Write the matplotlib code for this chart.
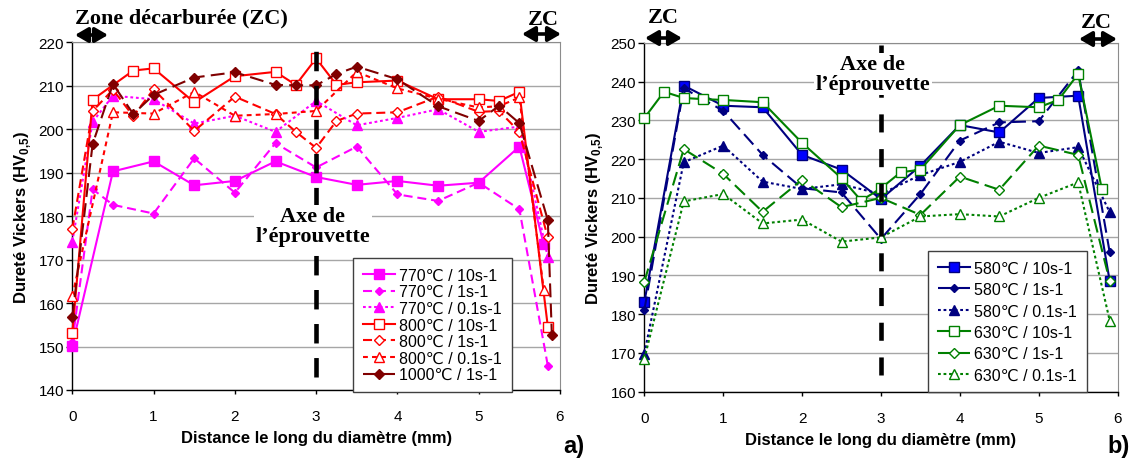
import matplotlib
matplotlib.use('Agg')
import matplotlib.pyplot as plt
from matplotlib.patches import FancyArrowPatch

plt.rcParams['font.family'] = ['Liberation Sans', 'DejaVu Sans']
plt.rcParams['lines.scale_dashes'] = False
plt.rcParams['mathtext.fontset'] = 'custom'
plt.rcParams['mathtext.rm'] = 'Liberation Sans'
plt.rcParams['mathtext.bf'] = 'Liberation Sans:bold'

# ---------------- data : panel a) ----------------
x_770_10 = [0, 0.5, 1, 1.5, 2, 2.5, 3, 3.5, 4, 4.5, 5, 5.5, 5.8]
hv_770_10 = [150.2, 190.3, 192.6, 187.1, 188.1, 192.6, 189.0, 187.2, 188.1, 187.0, 187.7, 196.0, 173.5]

x_770_1 = [0, 0.25, 0.5, 1, 1.5, 2, 2.5, 3, 3.5, 4, 4.5, 5, 5.5, 5.85]
hv_770_1 = [151.0, 186.2, 182.6, 180.6, 193.3, 185.4, 196.8, 191.2, 196.0, 185.0, 183.5, 187.7, 181.6, 145.6]

x_770_01 = [0, 0.25, 0.5, 1, 1.5, 2, 2.5, 3, 3.5, 4, 4.5, 5, 5.5, 5.85]
hv_770_01 = [174.1, 201.7, 207.7, 206.9, 201.3, 203.1, 199.4, 206.5, 200.9, 202.6, 204.6, 199.4, 200.6, 170.5]

x_800_10 = [0, 0.25, 0.75, 1, 1.5, 2, 2.5, 2.75, 3, 3.25, 3.5, 4, 4.5, 5, 5.25, 5.5, 5.85]
hv_800_10 = [153.0, 206.8, 213.5, 214.0, 206.2, 212.2, 213.2, 210.2, 216.3, 210.2, 210.8, 211.2, 206.9, 206.9, 206.5, 208.6, 154.6]

x_800_1 = [0, 0.25, 0.5, 0.75, 1, 1.5, 2, 2.5, 2.75, 3, 3.25, 3.5, 4, 4.5, 5, 5.25, 5.5, 5.85]
hv_800_1 = [177.0, 204.2, 209.1, 203.0, 209.2, 199.6, 207.5, 203.5, 199.4, 195.7, 201.9, 203.6, 203.9, 207.5, 204.0, 204.2, 199.4, 175.1]

x_800_01 = [0, 0.5, 1, 1.5, 2, 2.5, 3, 3.5, 4, 4.5, 5, 5.25, 5.5, 5.8]
hv_800_01 = [161.6, 203.9, 203.6, 208.6, 203.1, 203.5, 204.2, 213.2, 209.4, 207.0, 205.0, 205.3, 207.3, 163.0]

x_1000_1 = [0, 0.25, 0.5, 0.75, 1, 1.5, 2, 2.5, 2.75, 3, 3.25, 3.5, 4, 4.5, 5, 5.25, 5.5, 5.85, 5.9]
hv_1000_1 = [156.8, 196.6, 210.4, 203.5, 207.9, 211.9, 213.1, 210.2, 210.1, 210.1, 212.7, 214.4, 211.5, 205.3, 201.9, 205.4, 201.4, 179.1, 152.6]

# ---------------- data : panel b) ----------------
x_580_10 = [0, 0.5, 1, 1.5, 2, 2.5, 3, 3.5, 4, 4.5, 5, 5.5, 5.9]
hv_580_10 = [183.0, 239.0, 233.8, 233.4, 221.1, 217.3, 209.7, 218.3, 228.8, 226.9, 235.8, 236.4, 188.5]

x_580_1 = [0, 0.5, 1, 1.5, 2, 2.5, 3, 3.5, 4, 4.5, 5, 5.5, 5.9]
hv_580_1 = [181.0, 238.3, 232.5, 221.1, 212.5, 211.4, 199.4, 211.0, 224.8, 229.5, 229.8, 242.9, 195.9]

x_580_01 = [0, 0.5, 1, 1.5, 2, 2.5, 3, 3.5, 4, 4.5, 5, 5.5, 5.9]
hv_580_01 = [169.8, 219.2, 223.5, 214.2, 212.3, 213.5, 211.0, 215.9, 219.3, 224.5, 221.6, 223.1, 206.3]

x_630_10 = [0, 0.25, 0.5, 0.75, 1, 1.5, 2, 2.5, 2.75, 3, 3.25, 3.5, 4, 4.5, 5, 5.25, 5.5, 5.8]
hv_630_10 = [230.6, 237.4, 235.8, 235.5, 235.3, 234.7, 224.2, 215.1, 209.3, 212.5, 216.6, 217.3, 228.8, 233.8, 233.4, 235.3, 242.0, 212.3]

x_630_1 = [0, 0.5, 1, 1.5, 2, 2.5, 3, 3.5, 4, 4.5, 5, 5.5, 5.9]
hv_630_1 = [188.3, 222.6, 216.2, 206.4, 214.7, 207.6, 210.0, 205.6, 215.5, 212.1, 223.5, 221.1, 188.5]

x_630_01 = [0, 0.5, 1, 1.5, 2, 2.5, 3, 3.5, 4, 4.5, 5, 5.5, 5.9]
hv_630_01 = [168.4, 209.1, 211.0, 203.4, 204.4, 198.7, 199.8, 205.2, 205.8, 205.2, 210.0, 214.0, 178.3]

x_ticks = [0, 1, 2, 3, 4, 5, 6]
y_ticks_a = [140, 150, 160, 170, 180, 190, 200, 210, 220]
y_ticks_b = [160, 170, 180, 190, 200, 210, 220, 230, 240, 250]

# ---------------- figure ----------------
W, H = 1138, 464
fig = plt.figure(figsize=(W / 100, H / 100), dpi=100)


def axes_px(l, t, r, b):
    return fig.add_axes([l / W, 1 - b / H, (r - l) / W, (b - t) / H])


def ftext(x, y, s, **kw):
    return fig.text(x / W, 1 - y / H, s, **kw)


def arrow_px(x1, x2, y):
    fig.add_artist(FancyArrowPatch(
        (x1 / W, 1 - y / H), (x2 / W, 1 - y / H), transform=fig.transFigure,
        arrowstyle='<|-|>,head_length=0.55,head_width=0.32', mutation_scale=14,
        color='black', lw=2.6, shrinkA=0, shrinkB=0))


SOLID = '-'
DASH = (0, (6.5, 3.5))
LONGDASH = (0, (10, 4.5))
DOT = (0, (2, 2))
SDASH = (0, (3.5, 3))


def series(ax, x, y, color, ls, marker, ms, filled, label, fill=None):
    ax.plot(x, y, color=color, ls=ls, lw=1.5, marker=marker, ms=ms,
            mfc=(fill or color) if filled else 'white', mec=color, mew=1.0,
            label=label, clip_on=False, zorder=3)


def style_axes(ax, ylim, yticks):
    ax.set_xlim(0, 6)
    ax.set_ylim(*ylim)
    ax.set_xticks(x_ticks)
    ax.set_yticks(yticks)
    ax.yaxis.grid(True, color='#a6a6a6', lw=1.0)
    ax.set_axisbelow(True)
    for s in ('top', 'right'):
        ax.spines[s].set_color('#8c8c8c')
    for s in ('left', 'bottom'):
        ax.spines[s].set_color('black')
        ax.spines[s].set_linewidth(1.0)
    ax.tick_params(axis='y', direction='out', length=4, width=1, labelsize=11, pad=2)
    ax.tick_params(axis='x', direction='out', length=3, width=1, labelsize=11, pad=11)
    ax.set_xlabel('Distance le long du diamètre (mm)', fontsize=12, fontweight='bold', labelpad=5)
    ax.set_ylabel(r'Dureté Vickers (HV$_{\mathbf{0{,}5}}$)', fontsize=12, fontweight='bold', labelpad=4)


axL = axes_px(72.3, 43.3, 560, 391)
axR = axes_px(644.3, 44, 1117.6, 392.5)

MAG, RED, DRED = '#FF00FF', '#FF0000', '#800000'
NAVY, BLUE, GRN = '#000080', '#0000FF', '#008000'

series(axL, x_770_10, hv_770_10, MAG, SOLID, 's', 6.5, True, '770\u2103 / 10s-1')
series(axL, x_770_1, hv_770_1, MAG, DASH, 'D', 4.5, True, '770\u2103 / 1s-1')
series(axL, x_770_01, hv_770_01, MAG, DOT, '^', 6.5, True, '770\u2103 / 0.1s-1')
series(axL, x_800_10, hv_800_10, RED, SOLID, 's', 6.5, False, '800\u2103 / 10s-1')
series(axL, x_800_1, hv_800_1, RED, DASH, 'D', 5, False, '800\u2103 / 1s-1')
series(axL, x_800_01, hv_800_01, RED, SDASH, '^', 6.5, False, '800\u2103 / 0.1s-1')
series(axL, x_1000_1, hv_1000_1, DRED, LONGDASH, 'D', 5, True, '1000\u2103 / 1s-1')

series(axR, x_580_10, hv_580_10, NAVY, SOLID, 's', 6.5, True, '580\u2103 / 10s-1', fill=BLUE)
series(axR, x_580_1, hv_580_1, NAVY, LONGDASH, 'D', 4.5, True, '580\u2103 / 1s-1')
series(axR, x_580_01, hv_580_01, NAVY, DOT, '^', 6.5, True, '580\u2103 / 0.1s-1')
series(axR, x_630_10, hv_630_10, GRN, SOLID, 's', 6.5, False, '630\u2103 / 10s-1')
series(axR, x_630_1, hv_630_1, GRN, LONGDASH, 'D', 5, False, '630\u2103 / 1s-1')
series(axR, x_630_01, hv_630_01, GRN, DOT, '^', 6.5, False, '630\u2103 / 0.1s-1')

style_axes(axL, (140, 220), y_ticks_a)
style_axes(axR, (160, 250), y_ticks_b)

# specimen axis (centre line)
axL.plot([3, 3], [143, 219.5], color='black', lw=3.3, ls=(0, (14, 10.5)), zorder=4, solid_capstyle='butt')
axR.plot([3, 3], [164.2, 249.5], color='black', lw=3.3, ls=(0, (13, 12)), zorder=4, solid_capstyle='butt')

serif = dict(family='Liberation Serif', fontweight='bold')
axe_txt = 'Axe de\nl\u2019éprouvette'
ftext(313, 227, axe_txt, ha='center', va='center', fontsize=16, linespacing=1.0, zorder=6,
      bbox=dict(facecolor='white', edgecolor='none', pad=1), **serif)
ftext(873, 75, axe_txt, ha='center', va='center', fontsize=16, linespacing=1.0, zorder=6,
      bbox=dict(facecolor='white', edgecolor='none', pad=1), **serif)

# decarburised zone markers
ftext(75, 18, 'Zone décarburée (ZC)', ha='left', va='center', fontsize=16, **serif)
ftext(543, 20, 'ZC', ha='center', va='center', fontsize=16, **serif)
ftext(663, 18, 'ZC', ha='center', va='center', fontsize=16, **serif)
ftext(1096, 23, 'ZC', ha='center', va='center', fontsize=16, **serif)
arrow_px(75, 108, 36)
arrow_px(522, 561, 35)
arrow_px(645, 682, 39)
arrow_px(1079, 1117, 40)

leg_kw = dict(loc='upper left', bbox_transform=fig.transFigure, frameon=True, fancybox=False,
              framealpha=1, edgecolor='#404040', fontsize=11.5, handlelength=2.0,
              handletextpad=0.3, borderaxespad=0, borderpad=0.6)
legL = axL.legend(bbox_to_anchor=(353 / W, 1 - 259 / H), labelspacing=0.1, **leg_kw)
legR = axR.legend(bbox_to_anchor=(928 / W, 1 - 252 / H), labelspacing=0.4, **leg_kw)
for lg in (legL, legR):
    lg.get_frame().set_linewidth(1.0)
    lg.set_zorder(7)

ftext(574, 447, 'a)', ha='center', va='center', fontsize=17, fontweight='bold')
ftext(1119, 447, 'b)', ha='center', va='center', fontsize=17, fontweight='bold')

fig.savefig('out.png', dpi=100)
